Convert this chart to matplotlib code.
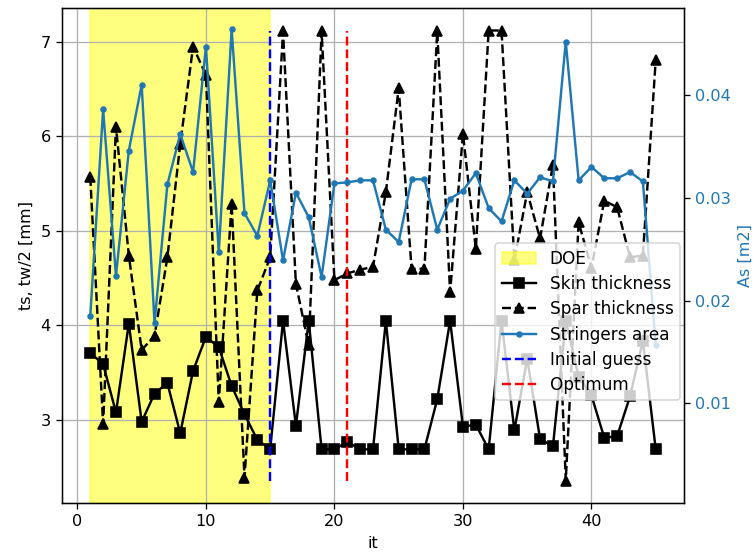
import matplotlib
matplotlib.use("Agg")
import matplotlib.pyplot as plt

# iterations
it = list(range(1, 46))

# skin thickness ts [mm]
skin = [3.71, 3.59, 3.08, 4.02, 2.98, 3.28, 3.39, 2.86, 3.52, 3.88,
        3.77, 3.36, 3.06, 2.79, 2.69, 4.05, 2.94, 4.05, 2.69, 2.69,
        2.77, 2.69, 2.69, 4.05, 2.69, 2.69, 2.69, 3.22, 4.05, 2.93,
        2.95, 2.69, 4.05, 2.89, 3.65, 2.80, 2.72, 4.05, 3.46, 3.26,
        2.81, 2.83, 3.25, 3.84, 2.69]

# spar thickness tw/2 [mm]
spar = [5.57, 2.96, 6.10, 4.74, 3.74, 3.89, 4.72, 5.92, 6.95, 6.65,
        3.19, 5.29, 2.39, 4.37, 4.72, 7.11, 4.44, 3.79, 7.11, 4.48,
        4.55, 4.59, 4.62, 5.41, 6.51, 4.60, 4.60, 7.11, 4.35, 6.03,
        4.81, 7.12, 7.12, 4.69, 5.41, 4.92, 5.70, 2.36, 5.09, 4.61,
        5.32, 5.25, 4.72, 4.74, 6.81]

# stringers area As [m2]
stringers = [0.0185, 0.0386, 0.0224, 0.0346, 0.0410, 0.0178, 0.0313, 0.0362, 0.0325, 0.0447,
             0.0247, 0.0464, 0.0285, 0.0263, 0.0317, 0.0239, 0.0305, 0.0281, 0.0223, 0.0314,
             0.0315, 0.0317, 0.0317, 0.0269, 0.0257, 0.0318, 0.0318, 0.0269, 0.0299, 0.0307,
             0.0324, 0.0290, 0.0277, 0.0317, 0.0304, 0.0320, 0.0316, 0.0452, 0.0317, 0.0330,
             0.0319, 0.0319, 0.0325, 0.0316, 0.0157]

doe_start, doe_end = 1, 15
initial_it = 15
optimum_it = 21
as_limits = (0.0003, 0.04847)

DPI = 116
fig = plt.figure(figsize=(753 / DPI, 555 / DPI), dpi=DPI)
ax1 = fig.add_axes([62/753, 52/555, 622/753, 495/555])

h_doe = ax1.axvspan(doe_start, doe_end, color='yellow', alpha=0.5, label='DOE')
h_skin, = ax1.plot(it, skin, 'k-s', label='Skin thickness')
h_spar, = ax1.plot(it, spar, 'k--^', label='Spar thickness')
ax1.set_xlabel('it')
ax1.set_ylabel('ts, tw/2 [mm]')
ax1.grid(True)

lo, hi = min(spar), max(spar)
h_init = ax1.vlines(initial_it, lo, hi, colors='b', linestyles='--', label='Initial guess')
h_opt = ax1.vlines(optimum_it, lo, hi, colors='r', linestyles='--', label='Optimum')

ax2 = ax1.twinx()
h_str, = ax2.plot(it, stringers, '.-', color='tab:blue', label='Stringers area')
ax2.set_ylabel('As [m2]', color='tab:blue')
ax2.tick_params(axis='y', labelcolor='tab:blue')
ax2.set_ylim(*as_limits)

handles = [h_doe, h_skin, h_spar, h_str, h_init, h_opt]
labels = [h.get_label() for h in handles]
ax2.legend(handles, labels, loc='lower right', bbox_to_anchor=(1.0075, 0.19),
           fontsize=10.5, labelspacing=0.42)

fig.savefig('out.png', dpi=DPI)
